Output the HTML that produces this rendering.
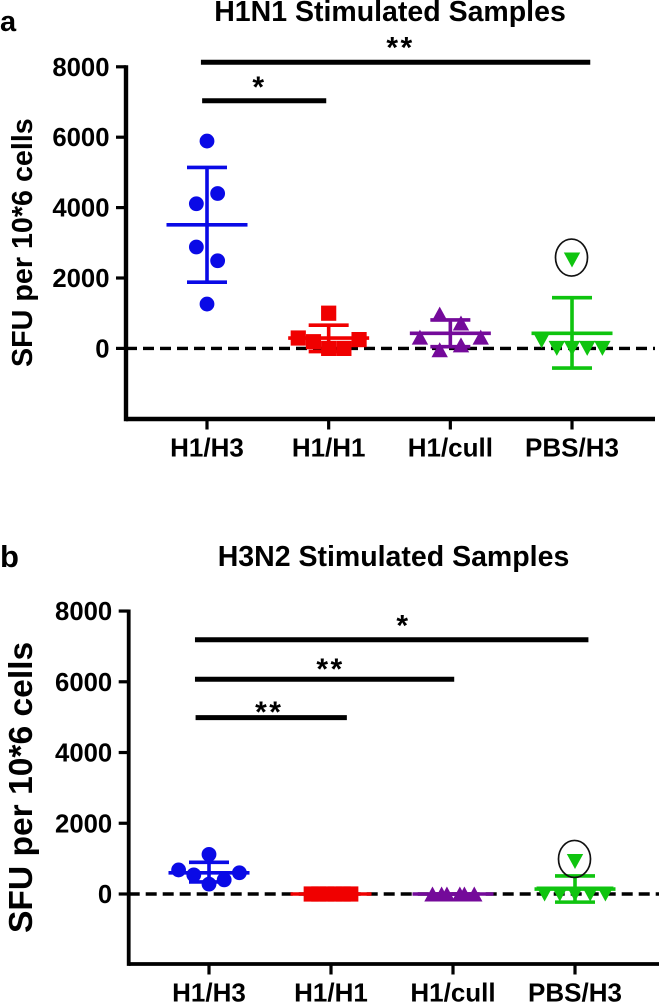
<!DOCTYPE html>
<html lang="en">
<head>
<meta charset="utf-8">
<title>H1N1 and H3N2 Stimulated Samples</title>
<style>
  html, body { margin: 0; padding: 0; background: #fff; }
  svg { display: block; filter: blur(0.35px); }
  text { font-family: "Liberation Sans", Arial, sans-serif; fill: #000; font-weight: 700; }
</style>
</head>
<body>
<svg id="figure" xmlns="http://www.w3.org/2000/svg" width="660" height="1003" viewBox="0 0 660 1003">
  <rect width="660" height="1003" fill="#fff"/>
  <text x="0" y="31" font-size="29">a</text>
  <text x="0" y="567" font-size="31">b</text>
  <text x="390" y="21" font-size="28.5" text-anchor="middle">H1N1 Stimulated Samples</text>
  <text x="393.5" y="566" font-size="28.5" text-anchor="middle">H3N2 Stimulated Samples</text>
  <text transform="translate(32,367) rotate(-90)" font-size="28.7">SFU per 10*6 cells</text>
  <text transform="translate(32,933) rotate(-90)" font-size="33.6">SFU per 10*6 cells</text>
</svg>
<script>
// ---- Shared data ----
const categories = ['H1/H3', 'H1/H1', 'H1/cull', 'PBS/H3'];
const yTicks = [0, 2000, 4000, 6000, 8000];
const seriesColors = ['#0a0ae6', '#f00000', '#740a9a', '#0fc40f'];
const seriesShapes = ['circle', 'square', 'triangle-up', 'triangle-down'];

// ---- Panel a: values ----
const a_H1H3 = [5890, 4400, 4110, 2880, 2490, 1260];
const a_H1H1 = [1000, 295, 190, 0, 0, 250];
const a_H1cull = [975, 720, 320, 320, 100, -40];
const a_PBSH3 = [2510, 220, 0, 0, 0, 0];
const a_mean = [3510, 295, 430, 430];
const a_errHigh = [5140, 660, 810, 1440];
const a_errLow = [1880, -90, 50, -560];
// Swarm slot of each point, in marker widths from the category centre
const a_slots = [
  [0, 0.7, -0.7, -0.7, 0.7, 0],
  [0, -2, -1, 0, 1, 2],
  [-0.7, 0.7, -2, 2, 0.7, -0.7],
  [0, -2, -1, 0, 1, 2]
];
// Outlier index circled per category
const a_circled = [null, null, null, 0];
const a_sigLevels = [8128, 7037];
const a_sigFrom = [-0.05, -0.04];
const a_sigTo = [3.15, 0.98];
const a_sigLabels = ['**', '*'];
const a_sigLabelAt = [1.578, 0.419];
const a_sigLabelLevels = [8668, 7540];

// ---- Panel b: values ----
const b_H1H3 = [680, 540, 1120, 280, 400, 600];
const b_H1H1 = [0, 0, 0, 0, 0, 0];
const b_H1cull = [0, 0, 0, 0, 0, 0];
const b_PBSH3 = [920, 0, 0, 0, 0, 0];
const b_mean = [600, 0, 0, 140];
const b_errHigh = [895, 0, 0, 510];
const b_errLow = [340, 0, 0, -230];
const b_slots = [
  [-2, -1, 0, 0, 1, 2],
  [-1.3, -0.8, -0.27, 0.27, 0.8, 1.3],
  [-1.35, -0.75, -0.4, 0.45, 0.75, 1.4],
  [0, -2, -1, 0, 1, 2]
];
const b_circled = [null, null, null, 0];
const b_sigLevels = [7190, 6070, 4985];
const b_sigFrom = [-0.115, -0.115, -0.11];
const b_sigTo = [3.11, 2.01, 1.13];
const b_sigLabels = ['*', '**', '**'];
const b_sigLabelAt = [1.582, 0.984, 0.482];
const b_sigLabelLevels = [7699, 6474, 5259];

const NS = 'http://www.w3.org/2000/svg';
const root = document.getElementById('figure');

function mk(tag, attrs, parent) {
  const el = document.createElementNS(NS, tag);
  for (const k in attrs) el.setAttribute(k, attrs[k]);
  parent.appendChild(el);
  return el;
}

function renderPanel(p) {
  const g = mk('g', {}, root);
  
  

  const yScale = v => p.zeroY - v * p.pxPerUnit;
  const xScale = c => p.firstX + c * p.stepX;

  // Dashed zero line
  const zero = mk('line', { x1: p.axisX, x2: p.rightX, y1: yScale(0), y2: yScale(0), stroke: '#000', 'stroke-width': 3.4, 'stroke-dasharray': '11 6' }, g);
  
  

  // Axes
  const yAxis = mk('line', { x1: p.axisX, x2: p.axisX, y1: yScale(yTicks[yTicks.length - 1]) - 1.5, y2: p.bottomY + p.axisW / 2, stroke: '#000', 'stroke-width': p.axisW }, g);
  
  

  const xAxis = mk('line', { x1: p.axisX, x2: p.rightX, y1: p.bottomY, y2: p.bottomY, stroke: '#000', 'stroke-width': p.axisW }, g);
  
  

  yTicks.forEach(t => {
    const tick = mk('line', { x1: p.axisX - 10, x2: p.axisX, y1: yScale(t), y2: yScale(t), stroke: '#000', 'stroke-width': 3.2 }, g);
    
    
    const label = mk('text', { x: p.axisX - 16.5, y: yScale(t) + 9, 'font-size': 25.7, 'text-anchor': 'end' }, g);
    label.textContent = String(t);
    
    
  });

  categories.forEach((name, c) => {
    const tick = mk('line', { x1: xScale(c), x2: xScale(c), y1: p.bottomY, y2: p.bottomY + 10.5, stroke: '#000', 'stroke-width': 3.2 }, g);
    
    
    const label = mk('text', { x: xScale(c), y: p.xLabelY, 'font-size': 26, 'text-anchor': 'middle' }, g);
    label.textContent = name;
    
    
  });

  // Series: error bars then markers
  categories.forEach((name, c) => {
    const color = seriesColors[c];
    const cx = xScale(c);
    const series = mk('g', {}, g);
    
    

    const stem = mk('line', { x1: cx, x2: cx, y1: yScale(p.errHigh[c]), y2: yScale(p.errLow[c]), stroke: color, 'stroke-width': 3.6 }, series);
    
    

    const meanLine = mk('line', { x1: cx - 40.5, x2: cx + 40.5, y1: yScale(p.mean[c]), y2: yScale(p.mean[c]), stroke: color, 'stroke-width': 3.6 }, series);
    
    

    const capHigh = mk('line', { x1: cx - 20, x2: cx + 20, y1: yScale(p.errHigh[c]), y2: yScale(p.errHigh[c]), stroke: color, 'stroke-width': 3.6 }, series);
    
    

    const capLow = mk('line', { x1: cx - 20, x2: cx + 20, y1: yScale(p.errLow[c]), y2: yScale(p.errLow[c]), stroke: color, 'stroke-width': 3.6 }, series);
    
    

    p.values[c].forEach((v, i) => {
      const mx = cx + p.slots[c][i] * 15.2;
      const my = yScale(v);
      const shape = seriesShapes[c];
      let m;
      if (shape === 'circle') {
        m = mk('circle', { cx: mx, cy: my, r: 7.4 }, series);
      } else if (shape === 'square') {
        m = mk('rect', { x: mx - 7.6, y: my - 7.6, width: 15.2, height: 15.2 }, series);
      } else if (shape === 'triangle-up') {
        m = mk('polygon', { points: `${mx - 8.2},${my + 7.5} ${mx + 8.2},${my + 7.5} ${mx},${my - 7.5}` }, series);
      } else {
        m = mk('polygon', { points: `${mx - 8.2},${my - 7.5} ${mx + 8.2},${my - 7.5} ${mx},${my + 7.5}` }, series);
      }
      m.setAttribute('fill', color);
      
      

      if (p.circled[c] === i) {
        const ring = mk('ellipse', { cx: mx - 0.5, cy: my - 2.5, rx: 16, ry: 18.5, fill: 'none', stroke: '#111', 'stroke-width': 1.7 }, series);
        
        
      }
    });
  });

  // Significance bars and their asterisks
  p.sigLevels.forEach((lvl, i) => {
    const bar = mk('line', { x1: xScale(p.sigFrom[i]), x2: xScale(p.sigTo[i]), y1: yScale(lvl), y2: yScale(lvl), stroke: '#000', 'stroke-width': 5 }, g);
    
    
    const star = mk('text', { x: xScale(p.sigLabelAt[i]) + 1.5, y: yScale(p.sigLabelLevels[i]) + 14, 'font-size': 30, 'letter-spacing': 2.5, 'text-anchor': 'middle' }, g);
    star.textContent = p.sigLabels[i];
    
    
  });
}

renderPanel({
  id: 'panel-a', zeroY: 348.4, pxPerUnit: 0.0352, firstX: 207, stepX: 121.67,
  axisX: 126, axisW: 4.4, rightX: 655, bottomY: 419, xLabelY: 456.7,
  values: [a_H1H3, a_H1H1, a_H1cull, a_PBSH3], mean: a_mean, errHigh: a_errHigh, errLow: a_errLow,
  slots: a_slots, circled: a_circled,
  sigLevels: a_sigLevels, sigFrom: a_sigFrom, sigTo: a_sigTo, sigLabels: a_sigLabels,
  sigLabelAt: a_sigLabelAt, sigLabelLevels: a_sigLabelLevels
});

renderPanel({
  id: 'panel-b', zeroY: 894, pxPerUnit: 0.03537, firstX: 209, stepX: 122,
  axisX: 128.7, axisW: 3.8, rightX: 659, bottomY: 964, xLabelY: 1001.7,
  values: [b_H1H3, b_H1H1, b_H1cull, b_PBSH3], mean: b_mean, errHigh: b_errHigh, errLow: b_errLow,
  slots: b_slots, circled: b_circled,
  sigLevels: b_sigLevels, sigFrom: b_sigFrom, sigTo: b_sigTo, sigLabels: b_sigLabels,
  sigLabelAt: b_sigLabelAt, sigLabelLevels: b_sigLabelLevels
});
</script>
</body>
</html>
